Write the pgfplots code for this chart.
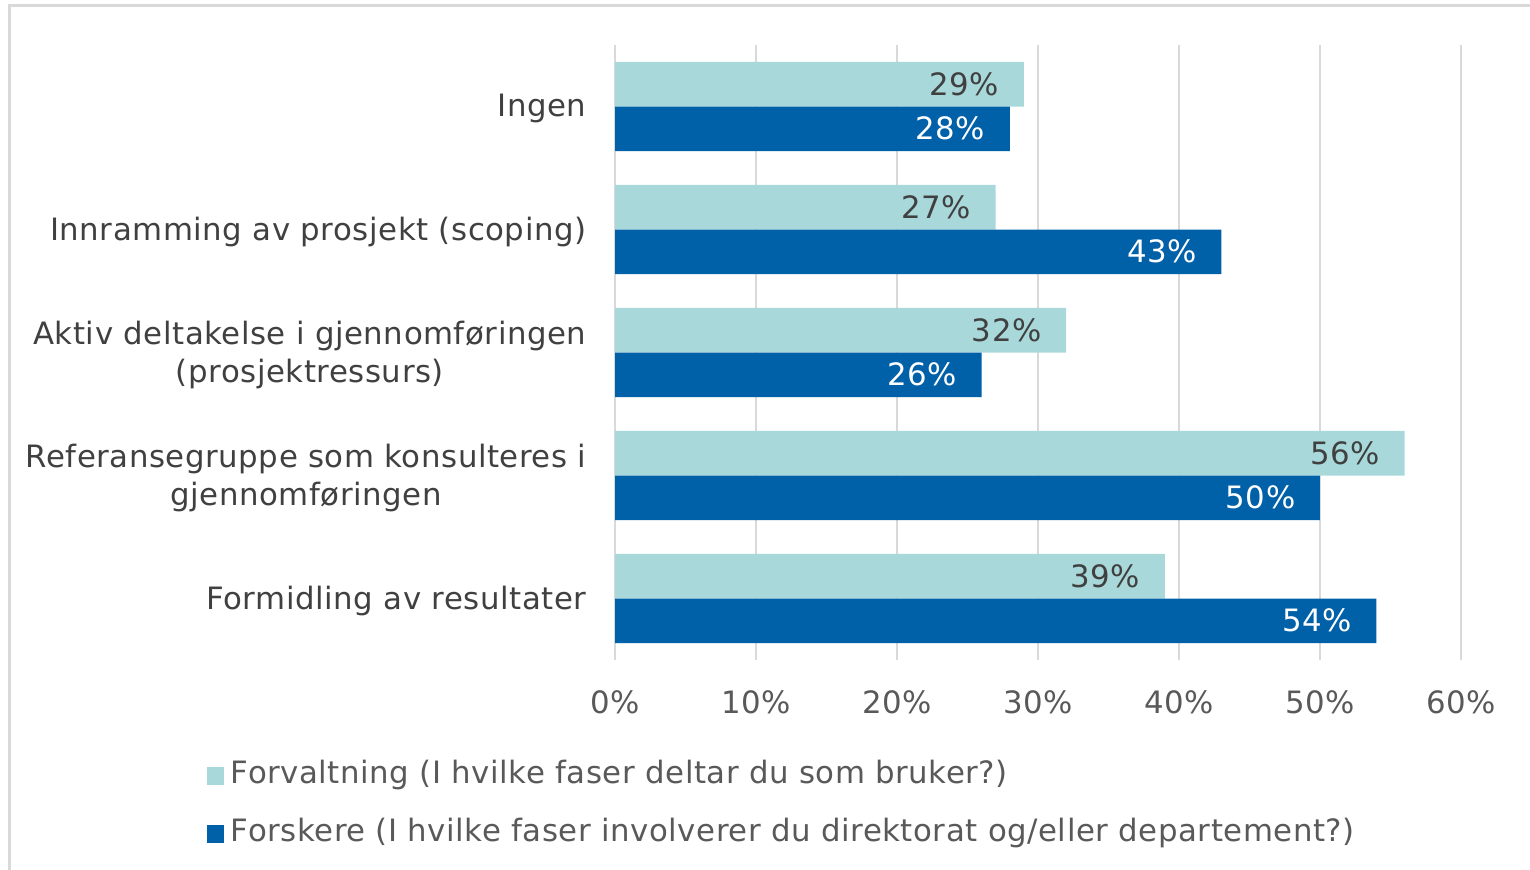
\documentclass[border=0pt]{standalone}
\usepackage{fontspec}
\setmainfont{DejaVu Sans}[LetterSpace=1.8]
\usepackage{pgfplots}
\pgfplotsset{compat=1.18}
\definecolor{teal1}{HTML}{A8D8DA}
\definecolor{blue1}{HTML}{0060A8}
\definecolor{gridgray}{HTML}{D9D9D9}
\definecolor{txtdark}{HTML}{404040}
\definecolor{txtgray}{HTML}{595959}
\begin{document}
\fontsize{15.4}{19}\selectfont
\begin{tikzpicture}
\path[use as bounding box] (0,0) rectangle (765pt,-435pt);
\draw[gridgray, line width=1.5pt] (4.5pt,-435pt) -- (4.5pt,-3pt) -- (765pt,-3pt);
\begin{axis}[
  at={(307.5pt,-330pt)}, anchor=south west,
  width=423pt, height=307.5pt, scale only axis,
  xmin=0, xmax=60, ymin=-0.5, ymax=4.5, y dir=reverse,
  xbar, bar width=0.362,
  /pgf/number format/assume math mode=true,
  xtick={0,10,...,60},
  xticklabel={\pgfmathprintnumber{\tick}\%},
  xticklabel style={text=txtgray, yshift=-10pt},
  ytick={0,1,2,3,4},
  yticklabels={Ingen, Innramming av prosjekt (scoping), {Aktiv deltakelse i gjennomføringen\\(prosjektressurs)}, {Referansegruppe som konsulteres i\\gjennomføringen}, Formidling av resultater},
  yticklabel style={text=txtdark, align=center, anchor=east, xshift=-9pt, yshift=-1pt},
  major tick length=0pt,
  axis line style={draw=none},
  xmajorgrids, grid style={draw=gridgray, line width=1.25pt},
  nodes near coords={\pgfmathprintnumber{\pgfplotspointmeta}\%},
  every node near coord/.append style={anchor=east, xshift=-7pt},
  legend style={at={(-0.49,-0.152)}, anchor=north west, draw=none, fill=none,
    text=txtgray, legend cell align=left, row sep=11pt,
    nodes={inner sep=2pt, text height=11pt, text depth=3pt},
    /tikz/every odd column/.append style={column sep=1.5pt}},
]
\addplot[draw=none, fill=teal1, bar shift=-0.181,
  every node near coord/.append style={text=txtdark},
  legend image code/.code={\fill[teal1] (0pt,-4.5pt) rectangle (8.5pt,4.5pt);}]
  coordinates {(29,0) (27,1) (32,2) (56,3) (39,4)};
\addlegendentry{Forvaltning (I hvilke faser deltar du som bruker?)}
\addplot[draw=none, fill=blue1, bar shift=0.181,
  every node near coord/.append style={text=white},
  legend image code/.code={\fill[blue1] (0pt,-4.5pt) rectangle (8.5pt,4.5pt);}]
  coordinates {(28,0) (43,1) (26,2) (50,3) (54,4)};
\addlegendentry{Forskere (I hvilke faser involverer du direktorat og/eller departement?)}
\end{axis}
\end{tikzpicture}
\end{document}
